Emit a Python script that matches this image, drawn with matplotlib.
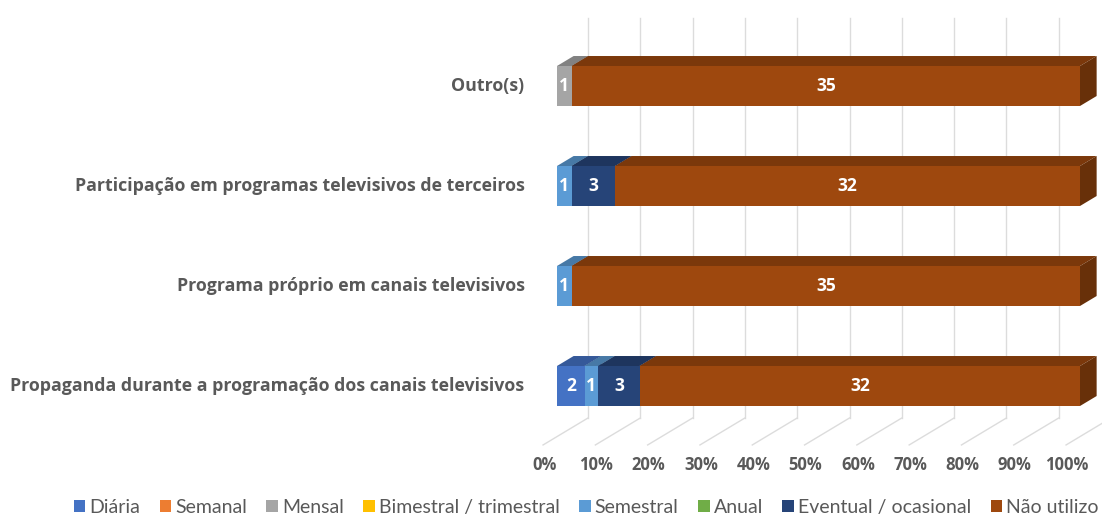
import matplotlib
matplotlib.use("Agg")
import matplotlib.pyplot as plt
from matplotlib.patches import Polygon, Patch
import matplotlib.colors as mcolors
import numpy as np

# Categories, drawn bottom to top
categories = [
    "Propaganda durante a programação dos canais televisivos",
    "Programa próprio em canais televisivos",
    "Participação em programas televisivos de terceiros",
    "Outro(s)",
]

series_names = ["Diária", "Semanal", "Mensal", "Bimestral / trimestral",
                "Semestral", "Anual", "Eventual / ocasional", "Não utilizo"]
series_colors = ["#4472C4", "#ED7D31", "#A5A5A5", "#FFC000",
                 "#5B9BD5", "#70AD47", "#264478", "#9E480E"]

diaria    = [2, 0, 0, 0]
semanal   = [0, 0, 0, 0]
mensal    = [0, 0, 0, 1]
bimestral = [0, 0, 0, 0]
semestral = [1, 1, 1, 0]
anual     = [0, 0, 0, 0]
eventual  = [3, 0, 3, 0]
nao_utilizo = [32, 35, 32, 35]

tick_labels = ["0%", "10%", "20%", "30%", "40%", "50%",
               "60%", "70%", "80%", "90%", "100%"]

values = np.array([diaria, semanal, mensal, bimestral,
                   semestral, anual, eventual, nao_utilizo], dtype=float)
shares = values / values.sum(axis=0)

fig = plt.figure(figsize=(11.02, 5.16), dpi=100)
ax = fig.add_axes([0, 0, 1, 1])
ax.set_xlim(-557 / 523, (1102 - 557) / 523)
ax.set_ylim(-1.30, 3.86)
ax.axis("off")

label_font = ["Open Sans", "DejaVu Sans"]

# oblique 3D projection: full depth of the plot box, and the bars' depth
depth_x, depth_y = 0.086, 0.27
bar_front = 0.31          # fraction of depth in front of the bars
bar_depth = 0.37          # fraction of depth occupied by the bars
bdx, bdy = bar_depth * depth_x, bar_depth * depth_y

floor_y_bars = -0.506
front_dx, front_y = -bar_front * depth_x, floor_y_bars - bar_front * depth_y
back_dx = (1 - bar_front) * depth_x
back_y = floor_y_bars + (1 - bar_front) * depth_y
wall_top = 3.68

grid_col = "#DCDCDC"
ticks = np.linspace(0, 1, len(tick_labels))
for p, lab in zip(ticks, tick_labels):
    ax.plot([p + back_dx, p + back_dx], [back_y, wall_top],
            color=grid_col, lw=1.0, zorder=1)
    ax.plot([p + front_dx, p + back_dx], [front_y, back_y],
            color=grid_col, lw=1.0, zorder=1)
    ax.text(p + front_dx + 0.002, -0.79, lab, ha="center", va="center",
            fontsize=12, color="#595959", fontweight="bold", family=label_font)

bar_h = 0.4
ypos = np.arange(len(categories))
for j, y in enumerate(ypos):
    left = 0.0
    yb, yt = y - bar_h / 2, y + bar_h / 2
    for i, col in enumerate(series_colors):
        w = shares[i, j]
        if w <= 0:
            continue
        x0, x1 = left, left + w
        rgb = np.array(mcolors.to_rgb(col))
        top = Polygon([(x0, yt), (x1, yt), (x1 + bdx, yt + bdy), (x0 + bdx, yt + bdy)],
                      closed=True, facecolor=rgb * 0.78, edgecolor="none", zorder=3)
        side = Polygon([(x1, yb), (x1, yt), (x1 + bdx, yt + bdy), (x1 + bdx, yb + bdy)],
                       closed=True, facecolor=rgb * 0.66, edgecolor="none", zorder=3)
        ax.add_patch(top)
        ax.add_patch(side)
        ax.barh(y, w, left=x0, height=bar_h, color=col, edgecolor="none", zorder=3)
        ax.text((x0 + x1) / 2, y, f"{int(values[i, j])}", ha="center", va="center",
                color="white", fontsize=12.5, fontweight="bold", zorder=4,
                family=label_font)
        left = x1

for y, name in zip(ypos, categories):
    ax.text(-0.062, y, name, ha="right", va="center", fontsize=12.8,
            color="#595959", fontweight="bold", family=label_font)

handles = [Patch(facecolor=c, edgecolor="none") for c in series_colors]
fig.legend(handles, series_names, loc="center", bbox_to_anchor=(0.532, 0.017),
           ncol=len(series_names), frameon=False, handlelength=0.6,
           handleheight=0.6, handletextpad=0.2, columnspacing=1.0,
           prop={"family": ["Lato", "DejaVu Sans"], "size": 14},
           labelcolor="#595959")

fig.savefig("out.png", dpi=100)
